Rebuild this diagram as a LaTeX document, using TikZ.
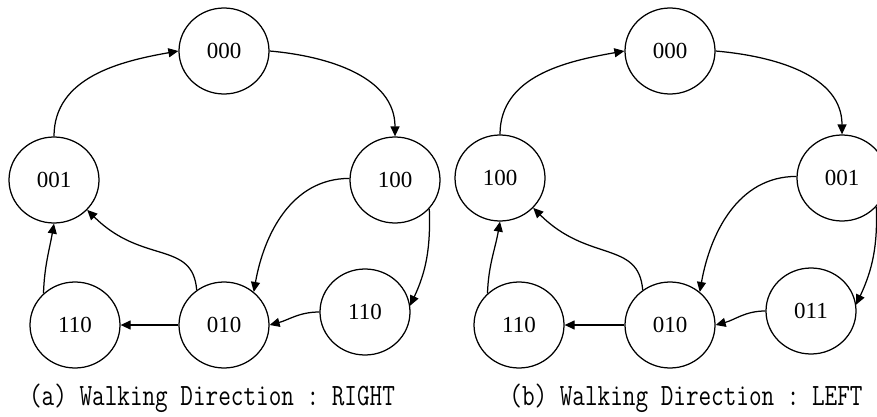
\documentclass[tikz,border=0pt]{standalone}
\usepackage{fontspec}
\setmainfont{Liberation Serif}
\setmonofont[FakeStretch=0.79]{Latin Modern Mono}
\usetikzlibrary{arrows.meta,shapes.geometric}
\tikzset{
  st/.style={ellipse,draw,line width=1.25pt,minimum width=90pt,minimum height=86pt,inner sep=0pt,font=\fontsize{23}{23}\selectfont},
  tr/.style={line width=1.25pt,-{Triangle[length=10pt,width=9pt]}},
  captxt/.style={font=\ttfamily\fontsize{31}{32}\selectfont,inner sep=0pt}
}
\begin{document}
\begin{tikzpicture}[x=1pt,y=1pt]
\useasboundingbox (0,0) rectangle (877,416);
\clip (0,0) rectangle (877,416);
% (a)
\node[st] (a000) at (224,365) {000};
\node[st] (a001) at (54,236) {001};
\node[st] (a100) at (395,236) {100};
\node[st] (a110L) at (75,91) {110};
\node[st] (a010) at (224,91) {010};
\node[st] (a110R) at (365,104) {110};
\node[captxt] (capa) at (212,18) {(a) Walking Direction : RIGHT};
\draw[tr] (a001.north) to[out=90,in=190] (a000.west);
\draw[tr] (a000.east) to[out=-5,in=90] (a100.north);
\draw[tr] (a100.178) to[out=180,in=80] (a010.48);
\draw[tr] (a100.-40) to[out=-88,in=65] (a110R.8);
\draw[tr] (a110R.west) to[out=180,in=15] (a010.east);
\draw[tr] (a010.west) -- (a110L.east);
\draw[tr] (a010.128) .. controls +(-4,50) and +(55,-55) .. (a001.-42);
\draw[tr] (a110L.135) to[out=88,in=-100] (a001.south);
% (b)
\node[st] (b000) at (670,365) {000};
\node[st] (b100) at (500,238) {100};
\node[st] (b001) at (842,238) {001};
\node[st] (b110) at (519,91) {110};
\node[st] (b010) at (670,91) {010};
\node[st] (b011) at (811,105) {011};
\node[captxt] (capb) at (686,18) {(b) Walking Direction : LEFT};
\draw[tr] (b100.north) to[out=90,in=190] (b000.west);
\draw[tr] (b000.east) to[out=-5,in=90] (b001.north);
\draw[tr] (b001.178) to[out=180,in=80] (b010.48);
\draw[tr] (b001.-40) to[out=-88,in=65] (b011.8);
\draw[tr] (b011.west) to[out=180,in=15] (b010.east);
\draw[tr] (b010.west) -- (b110.east);
\draw[tr] (b010.128) .. controls +(-4,50) and +(55,-55) .. (b100.-42);
\draw[tr] (b110.135) to[out=88,in=-100] (b100.south);
\end{tikzpicture}
\end{document}
